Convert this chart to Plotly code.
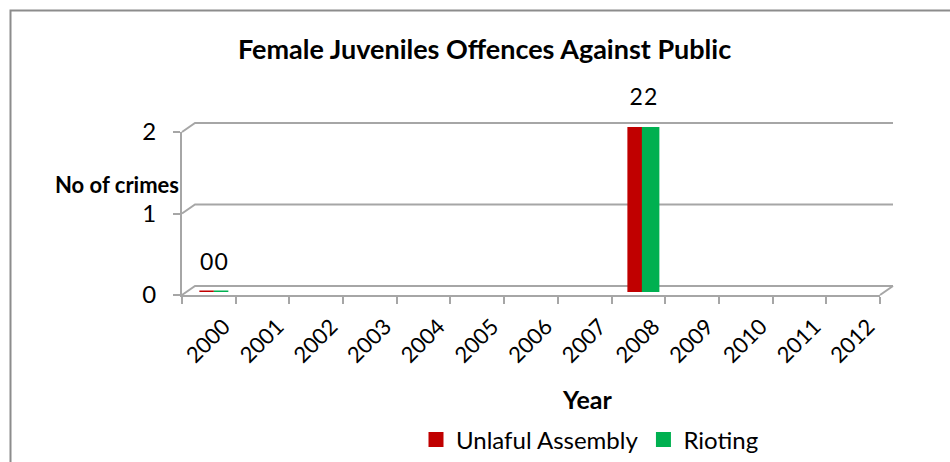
import plotly.graph_objects as go

years = [str(y) for y in range(2000, 2013)]
unlawful_assembly = [0, None, None, None, None, None, None, None, 2, None, None, None, None]
rioting = [0, None, None, None, None, None, None, None, 2, None, None, None, None]
series_names = ["Unlaful Assembly", "Rioting"]
series_colors = ["#C00000", "#00B050"]
y_ticks = [0, 1, 2]

W, H = 950, 462
FONT = "Lato"

fx0, fx1, fy0, fy1 = 182, 880, 295, 132          # front axes pixels: x left/right, y(0)/y(2)
bx, by = 5, 3                                    # depth shift for bars
dx_px, dy_px = 13, 9                             # back wall offset
lab_px = 28                                      # label lift above bar top
GAP = 0.46

fig = go.Figure()
for name, vals, col in zip(series_names, [unlawful_assembly, rioting], series_colors):
    fig.add_trace(go.Bar(
        x=years, y=vals, name=name,
        marker=dict(color=col, line=dict(color=col, width=3)),
        xaxis="x", yaxis="y", hoverinfo="skip", cliponaxis=False,
    ))

# value labels, grouped like the bars, on an axis lifted a few pixels
for name, vals in zip(series_names, [unlawful_assembly, rioting]):
    fig.add_trace(go.Scatter(
        x=years, y=vals, mode="text", text=[("" if v is None else str(v)) for v in vals],
        textposition="middle center", textfont=dict(family=FONT, size=23, color="black"),
        showlegend=False, hoverinfo="skip", cliponaxis=False,
        xaxis="x3", yaxis="y3", offsetgroup=name, alignmentgroup="labels",
    ))

fig.add_trace(go.Scatter(x=years, y=[0] * len(years), mode="markers",
                         marker=dict(opacity=0, size=1), showlegend=False,
                         xaxis="x2", yaxis="y2", hoverinfo="skip"))

annotations = [
    dict(x=484 / W, y=1 - 48 / H, xref="paper", yref="paper", showarrow=False,
         xanchor="center", yanchor="middle",
         text="<b>Female Juveniles Offences Against Public</b>",
         font=dict(family=FONT, size=27, color="black")),
    dict(x=181 / W, y=1 - 185 / H, xref="paper", yref="paper", showarrow=False,
         xanchor="right", yanchor="middle", text="<b>No of crimes</b>",
         font=dict(family=FONT, size=22, color="black")),
    dict(x=587 / W, y=1 - 399 / H, xref="paper", yref="paper", showarrow=False,
         xanchor="center", yanchor="middle",
         text="<b>Year</b>", font=dict(family=FONT, size=25, color="black")),
]

grid_col = "#A6A6A6"
def px_y(v):
    return fy0 - (v - y_ticks[0]) / (y_ticks[-1] - y_ticks[0]) * (fy0 - fy1)

shapes = []
for v in y_ticks:
    yf = px_y(v)
    path = (f"M{fx0 / W},{1 - yf / H} L{(fx0 + dx_px) / W},{1 - (yf - dy_px) / H} "
            f"L{(fx1 + dx_px) / W},{1 - (yf - dy_px) / H}")
    shapes.append(dict(type="path", xref="paper", yref="paper", path=path,
                       line=dict(color=grid_col, width=2), layer="below"))
shapes.append(dict(type="line", xref="paper", yref="paper",
                   x0=fx1 / W, y0=1 - px_y(0) / H, x1=(fx1 + dx_px) / W, y1=1 - (px_y(0) - dy_px) / H,
                   line=dict(color=grid_col, width=2), layer="below"))
shapes.append(dict(type="rect", xref="paper", yref="paper", x0=10.5 / W, x1=1.05, y0=-0.05, y1=1 - 10.5 / H,
                   line=dict(color="#8C8C8C", width=2)))

bar_xdom = [(fx0 + bx) / W, (fx1 + bx) / W]
bar_ydom = [(H - fy0 + by) / H, (H - fy1 + by + 2) / H]
lab_ydom = [bar_ydom[0] + lab_px / H, bar_ydom[1] + lab_px / H]

fig.update_layout(
    template="none",
    width=W, height=H, autosize=False,
    margin=dict(l=0, r=0, t=0, b=0, pad=0, autoexpand=False),
    paper_bgcolor="white", plot_bgcolor="rgba(0,0,0,0)",
    barmode="group", bargap=GAP, bargroupgap=0,
    scattermode="group", scattergap=GAP,
    font=dict(family=FONT, color="black"),
    xaxis=dict(type="category", categoryorder="array", categoryarray=years,
               range=[-0.5, len(years) - 0.5], domain=bar_xdom, visible=False),
    yaxis=dict(range=[0, 2], domain=bar_ydom, visible=False),
    xaxis3=dict(type="category", categoryorder="array", categoryarray=years, anchor="y3",
                range=[-0.5, len(years) - 0.5], domain=bar_xdom, visible=False),
    yaxis3=dict(range=[0, 2], domain=lab_ydom, anchor="x3", visible=False),
    xaxis2=dict(type="category", categoryorder="array", categoryarray=years,
                range=[-0.5, len(years) - 0.5], anchor="y2",
                domain=[fx0 / W, fx1 / W], showgrid=False, zeroline=False,
                showline=True, linecolor=grid_col, linewidth=2,
                ticks="outside", ticklen=7, tickcolor=grid_col, tickwidth=2,
                tickson="boundaries", tickangle=-45,
                ticklabelstandoff=8, ticklabelshift=15,
                tickfont=dict(family=FONT, size=22, color="black")),
    yaxis2=dict(range=[0, 2], anchor="x2", domain=[(H - fy0) / H, (H - fy1) / H],
                tickvals=y_ticks, showgrid=False, zeroline=False,
                showline=True, linecolor=grid_col, linewidth=2,
                ticks="outside", ticklen=7, tickcolor=grid_col, tickwidth=2,
                ticklabelstandoff=12,
                tickfont=dict(family=FONT, size=24, color="black")),
    showlegend=True,
    legend=dict(orientation="h", x=590 / W, xanchor="center", y=1 - 440 / H, yanchor="middle",
                font=dict(family=FONT, size=24, color="black"), traceorder="normal",
                bgcolor="rgba(0,0,0,0)"),
    annotations=annotations,
    shapes=shapes,
)

fig.write_html("out.html")
